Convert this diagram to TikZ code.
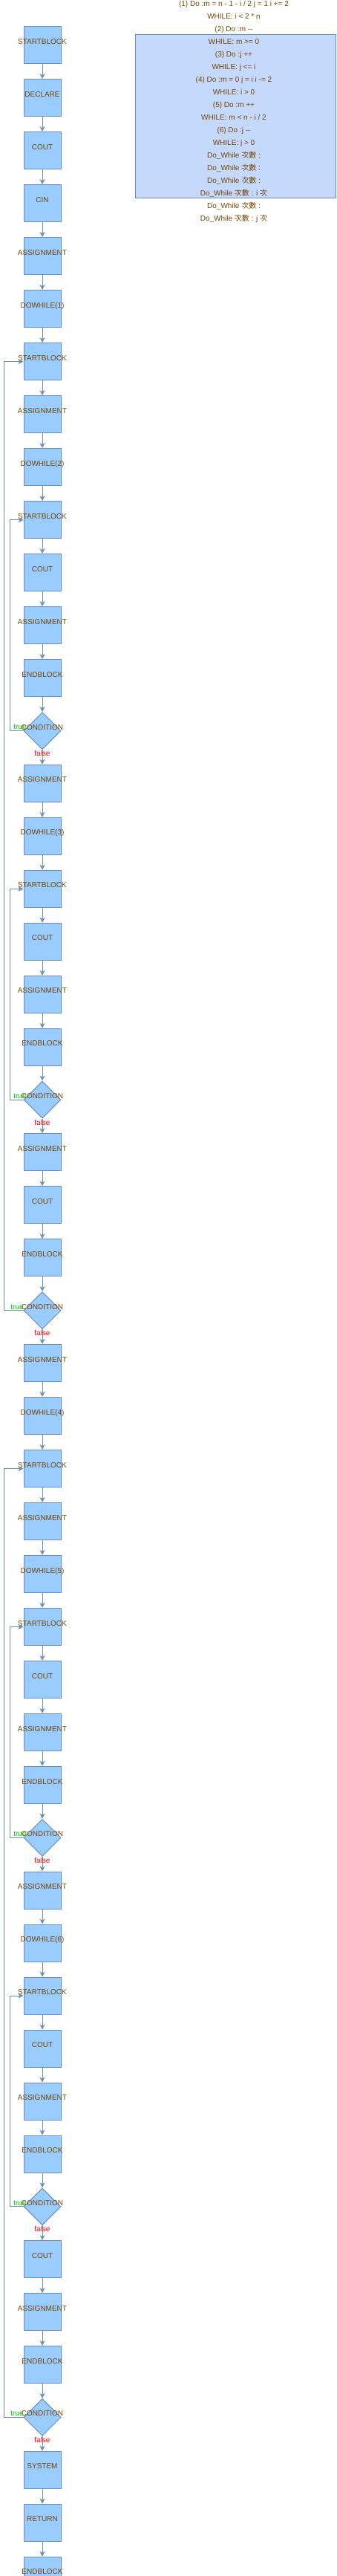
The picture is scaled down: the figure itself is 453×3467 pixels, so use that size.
\documentclass[tikz,border=0pt]{standalone}
\usepackage{fontspec}
\setmainfont{Liberation Sans}
\newfontfamily\cjk{Noto Sans CJK TC}
\newcommand{\cishu}{{\cjk 次數}}
\newcommand{\ci}{{\cjk 次}}
\usetikzlibrary{matrix,shapes.geometric,arrows.meta}
\definecolor{blkfill}{RGB}{153,204,255}
\definecolor{blkline}{RGB}{108,142,191}
\definecolor{notefill}{RGB}{197,217,252}
\definecolor{blktext}{RGB}{119,68,0}
\definecolor{truegreen}{RGB}{0,200,0}
\tikzset{
	blk/.style={draw=blkline, fill=blkfill, line width=1pt, minimum width=50pt, minimum height=50pt,
		inner sep=0pt, text=blktext, font=\fontsize{10}{12}\selectfont, text height=7pt, text depth=10pt,
		execute at begin node={\hbox to 0pt\bgroup\hss}, execute at end node={\hss\egroup}},
	cond/.style={blk, diamond, aspect=1},
	flow/.style={draw=blkline, line width=1pt, -{Stealth[length=7pt,width=7pt,inset=2pt]}},
	tlabel/.style={above, xshift=4.5pt, inner sep=1pt, text=truegreen, font=\fontsize{10}{12}\selectfont},
	flabel/.style={below, inner sep=1pt, text=red, font=\fontsize{10}{12}\selectfont},
	note/.style={draw=blkline, fill=notefill, line width=1pt, minimum width=270pt, minimum height=220pt, inner sep=0pt}
}
\begin{document}
\begin{tikzpicture}[x=1pt,y=-1pt]
	\useasboundingbox (0,0) rectangle (453,3467);
	\node[note] (panel) at (317,156) {};
	\node[text=blktext, align=center, font=\fontsize{10}{17}\selectfont] (info) at (315,150.5) {
		(1) Do :m = n - 1 - i / 2 j = 1 i += 2\\
		WHILE: i < 2 * n\\
		(2) Do :m -{}-\\
		WHILE: m >= 0\\
		(3) Do :j ++\\
		WHILE: j <= i\\
		(4) Do :m = 0 j = i i -= 2\\
		WHILE: i > 0\\
		(5) Do :m ++\\
		WHILE: m < n - i / 2\\
		(6) Do :j -{}-\\
		WHILE: j > 0\\
		Do\_While \cishu{} :\\
		Do\_While \cishu{} :\\
		Do\_While \cishu{} :\\
		Do\_While \cishu{} : i \ci\\
		Do\_While \cishu{} :\\
		Do\_While \cishu{} : j \ci};
	\matrix (m) [matrix of nodes, row sep=20pt, nodes={blk}, inner sep=0pt, anchor=north, ampersand replacement=\&] at (57,35)
	{
		STARTBLOCK \\ DECLARE \\ COUT \\ CIN \\ ASSIGNMENT \\ DOWHILE(1) \\
		STARTBLOCK \\ ASSIGNMENT \\ DOWHILE(2) \\
		STARTBLOCK \\ COUT \\ ASSIGNMENT \\ ENDBLOCK \\ |[cond]| CONDITION \\
		ASSIGNMENT \\ DOWHILE(3) \\
		STARTBLOCK \\ COUT \\ ASSIGNMENT \\ ENDBLOCK \\ |[cond]| CONDITION \\
		ASSIGNMENT \\ COUT \\ ENDBLOCK \\ |[cond]| CONDITION \\
		ASSIGNMENT \\ DOWHILE(4) \\
		STARTBLOCK \\ ASSIGNMENT \\ DOWHILE(5) \\
		STARTBLOCK \\ COUT \\ ASSIGNMENT \\ ENDBLOCK \\ |[cond]| CONDITION \\
		ASSIGNMENT \\ DOWHILE(6) \\
		STARTBLOCK \\ COUT \\ ASSIGNMENT \\ ENDBLOCK \\ |[cond]| CONDITION \\
		COUT \\ ASSIGNMENT \\ ENDBLOCK \\ |[cond]| CONDITION \\
		SYSTEM \\ RETURN \\ ENDBLOCK \\
	};
	\foreach \i in {1,...,48}{
		\pgfmathtruncatemacro{\j}{\i+1}
		\draw[flow] (m-\i-1) -- (m-\j-1);
	}
	\foreach \c in {14,21,25,35,42,46}
		\node[flabel] (f\c) at (m-\c-1.south) {false};
	\foreach \c/\t/\d in {14/10/18, 21/17/18, 25/7/26, 35/31/18, 42/38/18, 46/28/26}
		\draw[flow] (m-\c-1.west) -- ++(-\d,0) node[tlabel, midway] (t\c) {true} |- (m-\t-1.west);
\end{tikzpicture}
\end{document}
